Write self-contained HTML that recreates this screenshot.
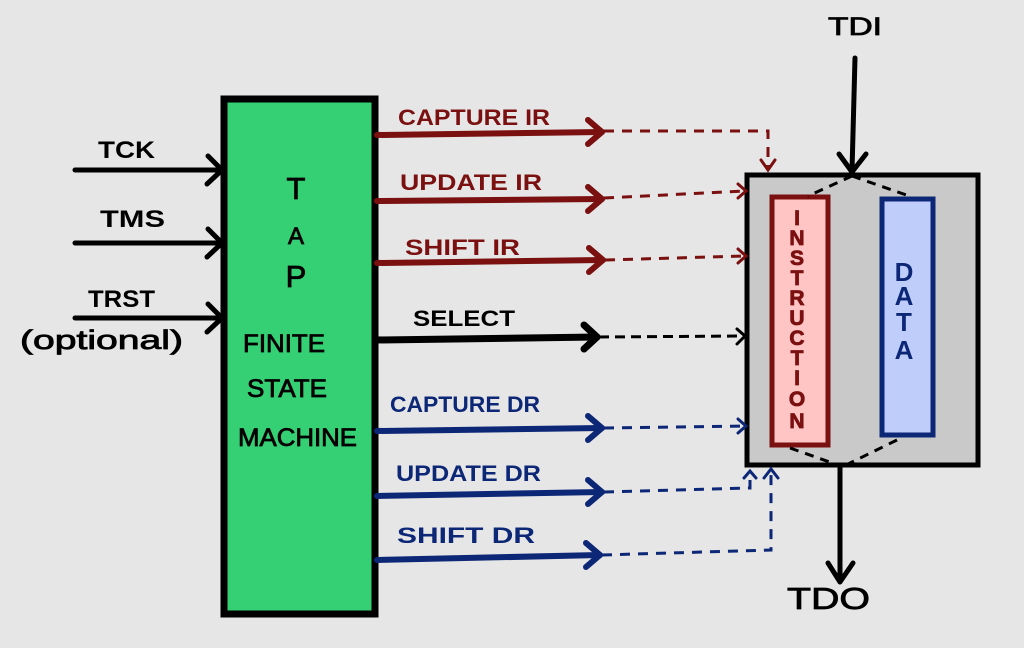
<!DOCTYPE html>
<html><head><meta charset="utf-8"><style>
html,body{margin:0;padding:0;background:#e6e6e6;}
svg{display:block;}
text{font-family:"Liberation Sans",sans-serif;font-weight:bold;}
</style></head><body>
<svg width="1024" height="648" viewBox="0 0 1024 648" xmlns="http://www.w3.org/2000/svg">
<rect width="1024" height="648" fill="#e6e6e6"/>
<!-- green TAP box -->
<rect x="224" y="99" width="151" height="515" fill="#35cf74" stroke="#000" stroke-width="7"/>
<!-- input arrows -->
<g stroke="#000" stroke-width="5" fill="none" stroke-linecap="round" stroke-linejoin="round">
<line x1="75" y1="170" x2="222" y2="170"/><polyline points="208,156 222,170 207,184"/>
<line x1="75" y1="243" x2="222" y2="243"/><polyline points="208,229 222,243 207,257"/>
<line x1="75" y1="318" x2="222" y2="318"/><polyline points="208,304 222,318 207,332"/>
</g>
<g fill="#000">
<text x="98" y="158" font-size="24" textLength="57" lengthAdjust="spacingAndGlyphs">TCK</text>
<text x="100" y="227" font-size="24" textLength="65" lengthAdjust="spacingAndGlyphs">TMS</text>
<text x="88" y="307" font-size="24" textLength="67" lengthAdjust="spacingAndGlyphs">TRST</text>
<text x="20" y="349" font-size="27" textLength="163" lengthAdjust="spacingAndGlyphs" style="font-weight:normal" stroke="#000" stroke-width="0.8">(optional)</text>
<text x="296" y="199" font-size="31" text-anchor="middle" style="font-weight:normal" stroke="#000" stroke-width="0.8">T</text>
<text x="296" y="244" font-size="24" text-anchor="middle" style="font-weight:normal" stroke="#000" stroke-width="0.8">A</text>
<text x="296" y="287" font-size="31" text-anchor="middle" style="font-weight:normal" stroke="#000" stroke-width="0.8">P</text>
<text x="243" y="352" font-size="25" textLength="82" lengthAdjust="spacingAndGlyphs" style="font-weight:normal" stroke="#000" stroke-width="0.8">FINITE</text>
<text x="247" y="397" font-size="25" textLength="80" lengthAdjust="spacingAndGlyphs" style="font-weight:normal" stroke="#000" stroke-width="0.8">STATE</text>
<text x="238" y="446" font-size="25" textLength="119" lengthAdjust="spacingAndGlyphs" style="font-weight:normal" stroke="#000" stroke-width="0.8">MACHINE</text>
</g>
<!-- gray register box -->
<rect x="747" y="175" width="231" height="290" fill="#c9c9c9" stroke="#000" stroke-width="5"/>
<!-- instruction register -->
<rect x="772" y="197" width="56" height="248" fill="#ffc4c4" stroke="#7a1010" stroke-width="5"/>
<!-- data register -->
<rect x="882" y="199" width="51" height="236" fill="#bfcdfb" stroke="#0d2777" stroke-width="5"/>
<g fill="#7a1010" stroke="#7a1010" stroke-width="0.8" text-anchor="middle" style="font-size:21px">
<text x="797" y="225">I</text>
<text x="797" y="245">N</text>
<text x="797" y="265">S</text>
<text x="797" y="285">T</text>
<text x="797" y="305">R</text>
<text x="797" y="325">U</text>
<text x="797" y="345">C</text>
<text x="797" y="365">T</text>
<text x="797" y="385">I</text>
<text x="797" y="406">O</text>
<text x="797" y="428">N</text>
</g>
<g fill="#0d2777" text-anchor="middle" style="font-size:26px">
<text x="904" y="281">D</text>
<text x="904" y="305">A</text>
<text x="904" y="331">T</text>
<text x="904" y="359">A</text>
</g>
<!-- internal dashed -->
<g stroke="#000" stroke-width="3" fill="none" stroke-dasharray="9,7">
<line x1="852" y1="176" x2="808" y2="196"/>
<line x1="852" y1="176" x2="912" y2="197"/>
<line x1="790" y1="448" x2="838" y2="465"/>
<line x1="897" y1="440" x2="846" y2="465"/>
</g>
<!-- TDI / TDO -->
<g stroke="#000" stroke-width="5" fill="none" stroke-linecap="round" stroke-linejoin="round">
<line x1="855" y1="58" x2="852" y2="171"/><polyline points="839,154 852,172 866,154"/>
<line x1="840" y1="467" x2="840" y2="580"/><polyline points="828,563 840,582 853,563"/>
</g>
<text x="828" y="35" font-size="25" textLength="54" lengthAdjust="spacingAndGlyphs" style="font-weight:normal" stroke="#000" stroke-width="0.8">TDI</text>
<text x="787" y="609" font-size="31" textLength="83" lengthAdjust="spacingAndGlyphs" style="font-weight:normal" stroke="#000" stroke-width="0.8">TDO</text>
<!-- IR signals (dark red) -->
<g stroke="#7a1010" stroke-width="6" fill="none" stroke-linecap="round" stroke-linejoin="round">
<line x1="377" y1="135" x2="602" y2="132"/><polyline points="588,120 602,132 588,144"/>
<line x1="377" y1="201" x2="602" y2="199"/><polyline points="588,187 602,199 588,211"/>
<line x1="377" y1="263" x2="603" y2="260"/><polyline points="589,248 603,260 589,272"/>
</g>
<g stroke="#7a1010" stroke-width="3" fill="none" stroke-dasharray="10,8">
<polyline points="604,131 768,131 768,167"/>
<line x1="604" y1="198" x2="745" y2="191"/>
<line x1="605" y1="260" x2="745" y2="256"/>
</g>
<g stroke="#7a1010" stroke-width="3" fill="none" stroke-linecap="round">
<polyline points="761,160 768,170 775,160"/>
<polyline points="738,184 746,191 738,198"/>
<polyline points="738,249 746,256 738,263"/>
</g>
<g fill="#7a1010" font-size="22">
<text x="398" y="125" textLength="152" lengthAdjust="spacingAndGlyphs">CAPTURE IR</text>
<text x="400" y="190" textLength="142" lengthAdjust="spacingAndGlyphs">UPDATE IR</text>
<text x="405" y="255" textLength="115" lengthAdjust="spacingAndGlyphs">SHIFT IR</text>
</g>
<!-- SELECT -->
<g stroke="#000" stroke-width="7" fill="none" stroke-linecap="round" stroke-linejoin="round">
<line x1="377" y1="340" x2="597" y2="337"/><polyline points="584,325 597,337 584,349"/>
</g>
<line x1="599" y1="337" x2="744" y2="336" stroke="#000" stroke-width="3" stroke-dasharray="10,6"/>
<polyline points="737,329 745,336 737,344" stroke="#000" stroke-width="3" fill="none" stroke-linecap="round"/>
<text x="413" y="326" font-size="22" textLength="102" lengthAdjust="spacingAndGlyphs" fill="#000">SELECT</text>
<!-- DR signals (navy) -->
<g stroke="#0d2777" stroke-width="6" fill="none" stroke-linecap="round" stroke-linejoin="round">
<line x1="377" y1="431" x2="602" y2="428"/><polyline points="588,416 602,428 588,440"/>
<line x1="377" y1="496" x2="602" y2="492"/><polyline points="588,480 602,492 588,504"/>
<line x1="377" y1="560" x2="600" y2="555"/><polyline points="586,543 600,555 586,567"/>
</g>
<g stroke="#0d2777" stroke-width="3" fill="none" stroke-dasharray="10,8">
<line x1="604" y1="428" x2="745" y2="426"/>
<polyline points="604,492 750,488 750,475"/>
<polyline points="602,555 771,550 771,472"/>
</g>
<g stroke="#0d2777" stroke-width="3" fill="none" stroke-linecap="round">
<polyline points="738,419 746,426 738,433"/>
<polyline points="744,478 750,471 756,478"/>
<polyline points="764,478 771,469 778,478"/>
</g>
<g fill="#0d2777" font-size="22">
<text x="390" y="412" textLength="150" lengthAdjust="spacingAndGlyphs">CAPTURE DR</text>
<text x="396" y="481" textLength="145" lengthAdjust="spacingAndGlyphs">UPDATE DR</text>
<text x="397" y="543" textLength="138" lengthAdjust="spacingAndGlyphs">SHIFT DR</text>
</g>
</svg>
</body></html>
